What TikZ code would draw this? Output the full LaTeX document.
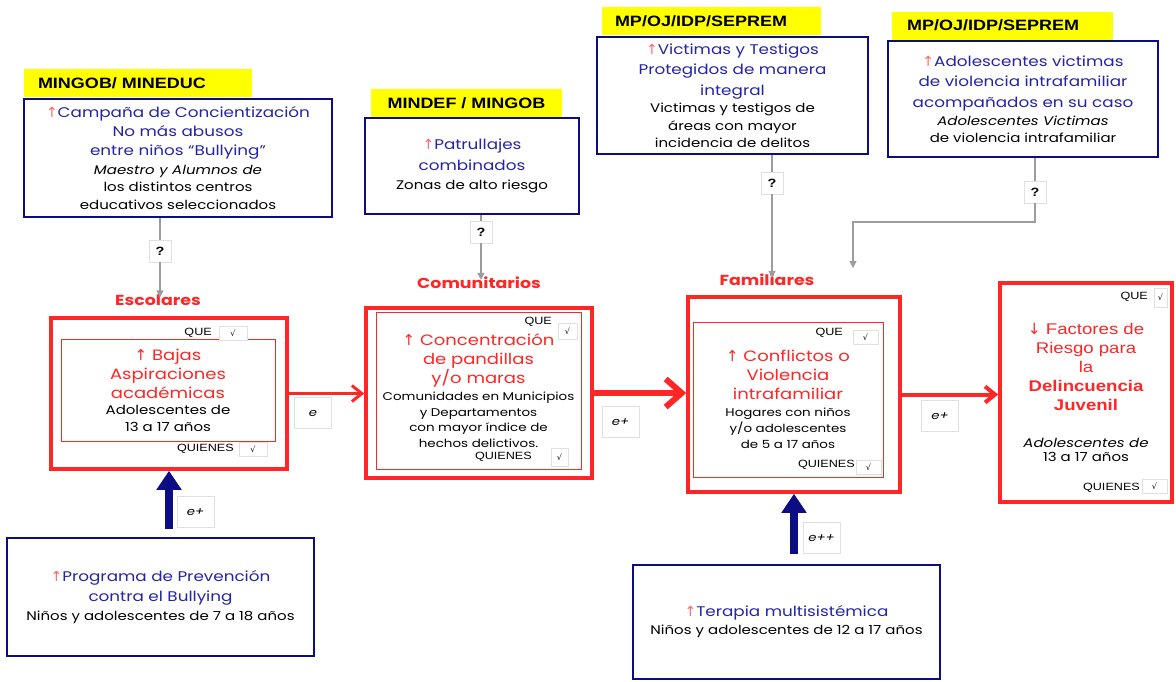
\documentclass[tikz,border=0pt]{standalone}
\usepackage{fontspec}
\usepackage{xcolor}
\usepackage{tikz}
\usetikzlibrary{arrows.meta}
\setmainfont{Poppins}[FakeStretch=1.2]
\newfontfamily\arialfont{Liberation Sans}[FakeStretch=1.2]
\newfontfamily\symfont{DejaVu Sans}
\definecolor{cnnavy}{HTML}{0C0C84}
\definecolor{cnink}{HTML}{2424A8}
\definecolor{cnred}{HTML}{FF2626}
\definecolor{cnyellow}{HTML}{FFFF00}
\definecolor{cngray}{HTML}{9C9C9C}
\newcommand{\arrup}[1]{{\symfont\textcolor{#1}{↑}}}
\newcommand{\arrdown}[1]{{\symfont\textcolor{#1}{↓}}}
\newcommand{\headtxt}{\fontsize{14}{20}\selectfont}
\newcommand{\subtxt}{\fontsize{12.5}{17}\selectfont}
\newcommand{\smalltxt}{\fontsize{11.2}{15}\selectfont}
\newcommand{\redtxt}{\fontsize{15}{19}\selectfont\color{cnred}}
\tikzset{
  agency/.style={fill=cnyellow, minimum height=28pt, inner sep=0pt, text=black,
    font=\arialfont\bfseries\fontsize{15}{18}\selectfont},
  plan/.style={draw=cnnavy, line width=1.6pt, fill=white, align=center, inner sep=2pt,
    font=\fontsize{14}{20.5}\selectfont},
  factor/.style={draw=cnred, line width=3.5pt, align=center, inner sep=0pt,
    font=\fontsize{15}{19}\selectfont},
  factorin/.style={draw=cnred, line width=0.8pt, align=center, inner sep=0pt,
    font=\fontsize{15}{19}\selectfont},
  tickbox/.style={draw=black!12, line width=0.6pt, fill=white, minimum height=14pt,
    inner sep=0pt, font=\symfont\fontsize{8}{8}\selectfont},
  tag/.style={inner sep=0pt, font=\arialfont\fontsize{10.5}{10.5}\selectfont},
  effect/.style={draw=black!12, line width=0.6pt, fill=white, minimum width=37pt,
    minimum height=31pt, inner sep=0pt, font=\itshape\fontsize{11}{11}\selectfont},
  query/.style={draw=black!12, line width=0.6pt, fill=white, minimum size=22pt,
    inner sep=0pt, font=\arialfont\bfseries\fontsize{12}{12}\selectfont},
  group/.style={text=cnred, inner sep=0pt, font=\bfseries\fontsize{14.5}{14.5}\selectfont},
  redarrow/.style={draw=cnred, line width=3pt, line join=round, line cap=round,
    -{Straight Barb[length=10pt, width=16pt]}},
  bluearrow/.style={draw=cnnavy, line width=8pt, -{Triangle[length=19pt, width=24pt]}},
  grayarrow/.style={draw=cngray, line width=1.2pt, -{Triangle[length=7pt, width=7pt]}}
}
\begin{document}
\begin{tikzpicture}[x=1pt, y=-1pt]
  \useasboundingbox[fill=white] (0,0) rectangle (1176,681);

  % agencies
  \node[agency, minimum width=228pt, text width=200pt, inner xsep=14pt, align=left] (agency1) at (138,83) {MINGOB/ MINEDUC};
  \node[agency, minimum width=191pt] (agency2) at (466.5,103) {MINDEF / MINGOB};
  \node[agency, minimum width=219pt, text width=193pt, inner xsep=13pt, align=left] (agency3) at (711.5,21) {MP/OJ/IDP/SEPREM};
  \node[agency, minimum width=221pt, text width=191pt, inner xsep=15pt, align=left] (agency4) at (1002.5,25.5) {MP/OJ/IDP/SEPREM};

  % programs
  \node[plan, minimum width=308pt, minimum height=118pt] (campana) at (178,158)
    {{\headtxt\color{cnink}\arrup{cnred!70}Campaña de Concientización}\\[-1.5pt]
     {\headtxt\color{cnink}No más abusos}\\[-1.5pt]
     {\headtxt\color{cnink}entre niños “Bullying”}\\[-2pt]
     {\subtxt\itshape Maestro y Alumnos de}\\[-3pt]
     {\subtxt los distintos centros}\\[-3pt]
     {\subtxt educativos seleccionados}};
  \node[plan, minimum width=214pt, minimum height=96pt] (patrulla) at (472,166)
    {{\headtxt\color{cnink}\arrup{cnred!70}Patrullajes}\\
     {\headtxt\color{cnink}combinados}\\[-1.5pt]
     {\subtxt Zonas de alto riesgo}};
  \node[plan, minimum width=271pt, minimum height=117pt] (victimas) at (732.5,95.5)
    {{\headtxt\color{cnink}\arrup{cnred!70}Victimas y Testigos}\\
     {\headtxt\color{cnink}Protegidos de manera}\\
     {\headtxt\color{cnink}integral}\\[-3pt]
     {\subtxt Victimas y testigos de}\\[-3pt]
     {\subtxt áreas con mayor}\\[-3pt]
     {\subtxt incidencia de delitos}};
  \node[plan, minimum width=270pt, minimum height=116pt] (adolvict) at (1023,99)
    {{\headtxt\color{cnink}\arrup{cnred!70}Adolescentes victimas}\\
     {\headtxt\color{cnink}de violencia intrafamiliar}\\
     {\headtxt\color{cnink}acompañados en su caso}\\[-2pt]
     {\subtxt\itshape Adolescentes Victimas}\\[-3.5pt]
     {\subtxt de violencia intrafamiliar}};
  \node[plan, minimum width=307pt, minimum height=118pt] (programa) at (160.5,597)
    {{\headtxt\color{cnink}\arrup{cnred!70}Programa de Prevención}\\
     {\headtxt\color{cnink}contra el Bullying}\\[-1.5pt]
     {\subtxt Niños y adolescentes de 7 a 18 años}};
  \node[plan, minimum width=307pt, minimum height=114pt] (terapia) at (786.5,622)
    {{\headtxt\color{cnink}\arrup{cnred!70}Terapia multisistémica}\\[-2.5pt]
     {\subtxt Niños y adolescentes de 12 a 17 años}};

  % risk factors
  \node[group] (esclab) at (158,300) {Escolares};
  \node[group] (comlab) at (479,283) {Comunitarios};
  \node[group] (famlab) at (767,280) {Familiares};

  \node[factor, minimum width=236pt, minimum height=151pt] (escolar) at (169,393.5) {};
  \node[factorin, minimum width=214pt, minimum height=102pt] (escolarin) at (168,390)
    {{\redtxt\arrup{cnred} Bajas}\\
     {\redtxt Aspiraciones}\\
     {\redtxt académicas}\\[-3pt]
     {\subtxt Adolescentes de}\\[-2pt]
     {\subtxt 13 a 17 años}};
  \node[tag, anchor=east] (escque) at (212,333) {QUE};
  \node[tickbox, minimum width=28pt] (escquebox) at (233,333.5) {√};
  \node[tag, anchor=east] (escquien) at (234,449) {QUIENES};
  \node[tickbox, minimum width=28pt] (escquienbox) at (253,449.5) {√};

  \node[factor, minimum width=226pt, minimum height=170pt] (comunit) at (479,393) {};
  \node[factorin, minimum width=205pt, minimum height=157pt] (comunitin) at (478.5,390.5)
    {{\redtxt\arrup{cnred} Concentración}\\
     {\redtxt de pandillas}\\
     {\redtxt y/o maras}\\[-2pt]
     {\smalltxt Comunidades en Municipios}\\[-3.5pt]
     {\smalltxt y Departamentos}\\[-3.5pt]
     {\smalltxt con mayor índice de}\\[-3.5pt]
     {\smalltxt hechos delictivos.}};
  \node[tag, anchor=east] (comque) at (552,322) {QUE};
  \node[tickbox, minimum width=19pt, minimum height=16pt] (comquebox) at (567.5,331) {√};
  \node[tag, anchor=east] (comquien) at (532,457) {QUIENES};
  \node[tickbox, minimum width=17pt, minimum height=18pt] (comquienbox) at (559.5,457) {√};

  \node[factor, minimum width=212pt, minimum height=195pt] (familiar) at (794,394.5) {};
  \node[factorin, minimum width=190pt, minimum height=155pt] (familiarin) at (788,399.5)
    {{\redtxt\arrup{cnred} Conflictos o}\\
     {\redtxt Violencia}\\
     {\redtxt intrafamiliar}\\[-2pt]
     {\smalltxt Hogares con niños}\\[-3pt]
     {\smalltxt y/o adolescentes}\\[-3pt]
     {\smalltxt de 5 a 17 años}};
  \node[tag, anchor=east] (famque) at (843,333) {QUE};
  \node[tickbox, minimum width=25pt] (famquebox) at (865.5,337.5) {√};
  \node[tag, anchor=east] (famquien) at (855,465) {QUIENES};
  \node[tickbox, minimum width=25pt] (famquienbox) at (868.5,467.5) {√};

  \node[factor, minimum width=172pt, minimum height=219pt] (final) at (1086,392.5)
    {{\arialfont\fontsize{15.5}{19}\selectfont\color{cnred}\arrdown{cnred} Factores de}\\
     {\arialfont\fontsize{15.5}{19}\selectfont\color{cnred}Riesgo para}\\
     {\arialfont\fontsize{15.5}{19}\selectfont\color{cnred}la}\\
     {\arialfont\bfseries\fontsize{15.5}{19}\selectfont\color{cnred}Delincuencia}\\
     {\arialfont\bfseries\fontsize{15.5}{19}\selectfont\color{cnred}Juvenil}\\[18pt]
     {\subtxt\itshape Adolescentes de}\\[-5pt]
     {\subtxt 13 a 17 años}};
  \node[tag, anchor=east] (finque) at (1148,297) {QUE};
  \node[tickbox, minimum width=13pt, minimum height=19pt] (finquebox) at (1160.5,297.5) {√};
  \node[tag, anchor=east] (finquien) at (1140,488) {QUIENES};
  \node[tickbox, minimum width=25pt] (finquienbox) at (1154.5,486.5) {√};

  % red chain
  \draw[redarrow] (escolar.east) -- (escolar.east -| comunit.west);
  \draw[redarrow, line width=6pt, -{Straight Barb[length=16pt, width=28pt]}] (comunit.east) -- (comunit.east -| familiar.west);
  \draw[redarrow, line width=4pt] (familiar.east) -- (familiar.east -| final.west);
  \node[effect] (eff1) at (313,413) {e};
  \node[effect] (eff2) at (620.5,422) {e+};
  \node[effect] (eff3) at (940,416) {e+};

  % interventions
  \draw[bluearrow, shorten <=8pt] (escolar.south |- programa.north) -- (escolar.south);
  \draw[bluearrow, shorten <=10pt] (familiar.south |- terapia.north) -- (familiar.south);
  \node[effect] (eff4) at (195.5,512) {e+};
  \node[effect] (eff5) at (821.5,538) {e++};

  % links
  \node[query] (q1) at (160,251) {?};
  \node[query] (q2) at (481,232) {?};
  \node[query] (q3) at (772,183) {?};
  \node[query] (q4) at (1035,192) {?};
  \draw[cngray, line width=1.2pt] (q1 |- campana.south) -- (q1.north);
  \draw[grayarrow] (q1.south) -- ([yshift=-3pt]q1 |- esclab.north);
  \draw[cngray, line width=1.2pt] (q2 |- patrulla.south) -- (q2.north);
  \draw[grayarrow] (q2.south) -- ([yshift=-3pt]q2 |- comlab.north);
  \draw[cngray, line width=1.2pt] (q3 |- victimas.south) -- (q3.north);
  \draw[grayarrow] (q3.south) -- ([yshift=-4pt]q3 |- famlab.north);
  \draw[cngray, line width=1.2pt] (q4 |- adolvict.south) -- (q4.north);
  \draw[grayarrow] (q4.south) |- (853,222) -- (853,268);
\end{tikzpicture}
\end{document}
